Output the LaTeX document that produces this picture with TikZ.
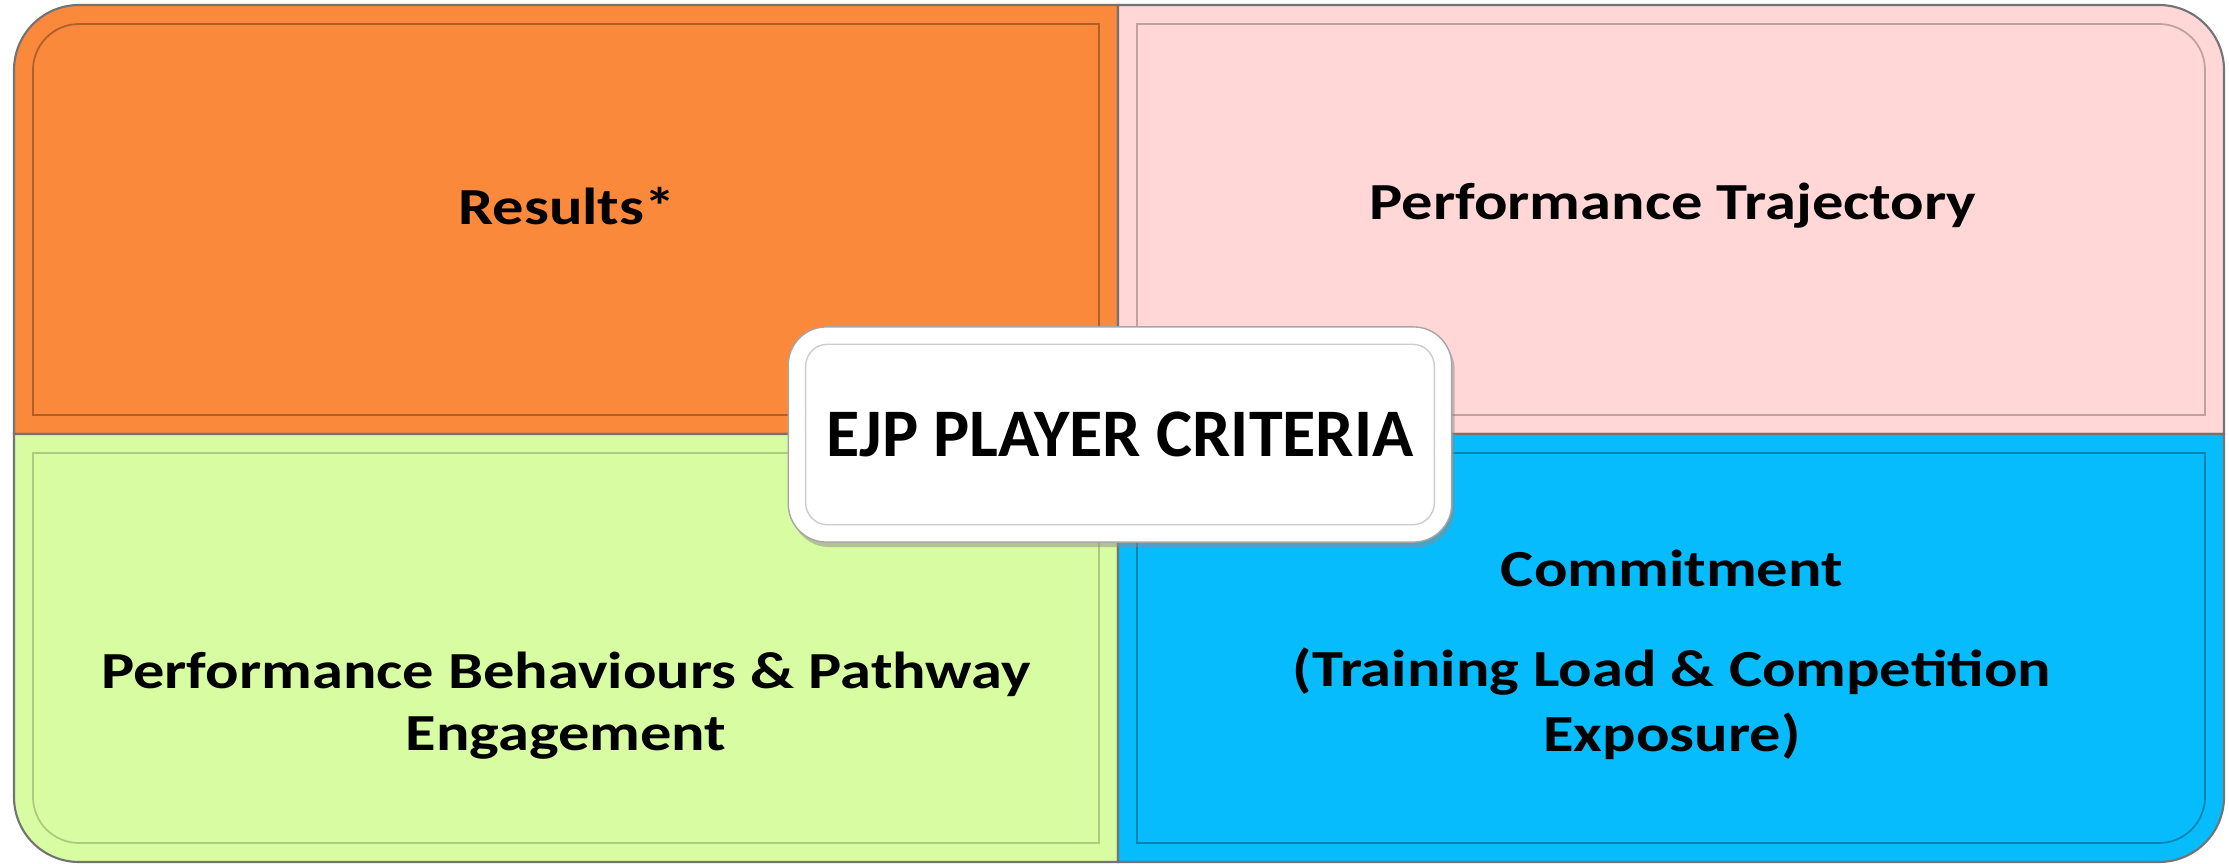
\documentclass[tikz,border=0pt]{standalone}
\usepackage{fontspec}
\setmainfont{Carlito}
\newfontfamily\quadfont{Carlito}[FakeStretch=1.2]
\usetikzlibrary{positioning,shadows}
\definecolor{resorange}{RGB}{250,137,59}
\definecolor{trajpink}{RGB}{255,215,215}
\definecolor{behgreen}{RGB}{216,252,161}
\definecolor{comblue}{RGB}{6,188,253}

\begin{document}
\begin{tikzpicture}[x=0.01cm, y=0.01cm,
    outline/.style={draw=black!55, line width=0.6pt},
    innerline/.style={line width=0.5pt},
    quadtext/.style={font=\quadfont\bfseries\fontsize{14.8}{17.6}\selectfont,
        anchor=base, inner sep=0pt},
    titlebox/.style={draw=black!35, fill=white, rounded corners=0.38cm,
        minimum width=6.63cm, minimum height=2.15cm,
        font=\bfseries\fontsize{19.35}{23}\selectfont,
        drop shadow={shadow xshift=0.03cm, shadow yshift=-0.05cm, fill=black!45}}]
    \useasboundingbox (0,0) rectangle (2229,863);

    % four panels
    \filldraw[fill=resorange, outline] (14,429) -- (14,793) arc[start angle=180, end angle=90, radius=65] -- (1118,858) -- (1118,429) -- cycle;
    \filldraw[fill=trajpink, outline] (1118,858) -- (2159,858) arc[start angle=90, end angle=0, radius=65] -- (2224,429) -- (1118,429) -- cycle;
    \filldraw[fill=behgreen, outline] (1118,429) -- (14,429) -- (14,66) arc[start angle=180, end angle=270, radius=65] -- (1118,1) -- cycle;
    \filldraw[fill=comblue, outline] (1118,429) -- (2224,429) -- (2224,66) arc[start angle=0, end angle=-90, radius=65] -- (1118,1) -- cycle;

    % bevel lines
    \draw[innerline, resorange!70!black] (33,448) -- (33,793) arc[start angle=180, end angle=90, radius=46] -- (1099,839) -- (1099,448) -- cycle;
    \draw[innerline, trajpink!75!black] (1137,839) -- (2159,839) arc[start angle=90, end angle=0, radius=46] -- (2205,448) -- (1137,448) -- cycle;
    \draw[innerline, behgreen!80!black] (1099,410) -- (33,410) -- (33,66) arc[start angle=180, end angle=270, radius=46] -- (1099,20) -- cycle;
    \draw[innerline, comblue!70!black] (1137,410) -- (2205,410) -- (2205,66) arc[start angle=0, end angle=-90, radius=46] -- (1137,20) -- cycle;

    \node[quadtext] (res) at (567,638) {Results*};
    \node[quadtext] (traj) at (1673,643) {Performance Trajectory};
    \node[quadtext] (beh1) at (566,175) {Performance Behaviours \& Pathway};
    \node[quadtext] (beh2) at (566,113) {Engagement};
    \node[quadtext] (com1) at (1672,276) {Commitment};
    \node[quadtext] (com2) at (1672,176) {(Training Load \& Competition};
    \node[quadtext] (com3) at (1672,111) {Exposure)};

    % centre box
    \node[titlebox] (title) at (1120,428.5) {EJP PLAYER CRITERIA};
    \draw[black!20, rounded corners=0.22cm] ([shift={(18,18)}]title.south west) rectangle ([shift={(-18,-18)}]title.north east);
\end{tikzpicture}
\end{document}
